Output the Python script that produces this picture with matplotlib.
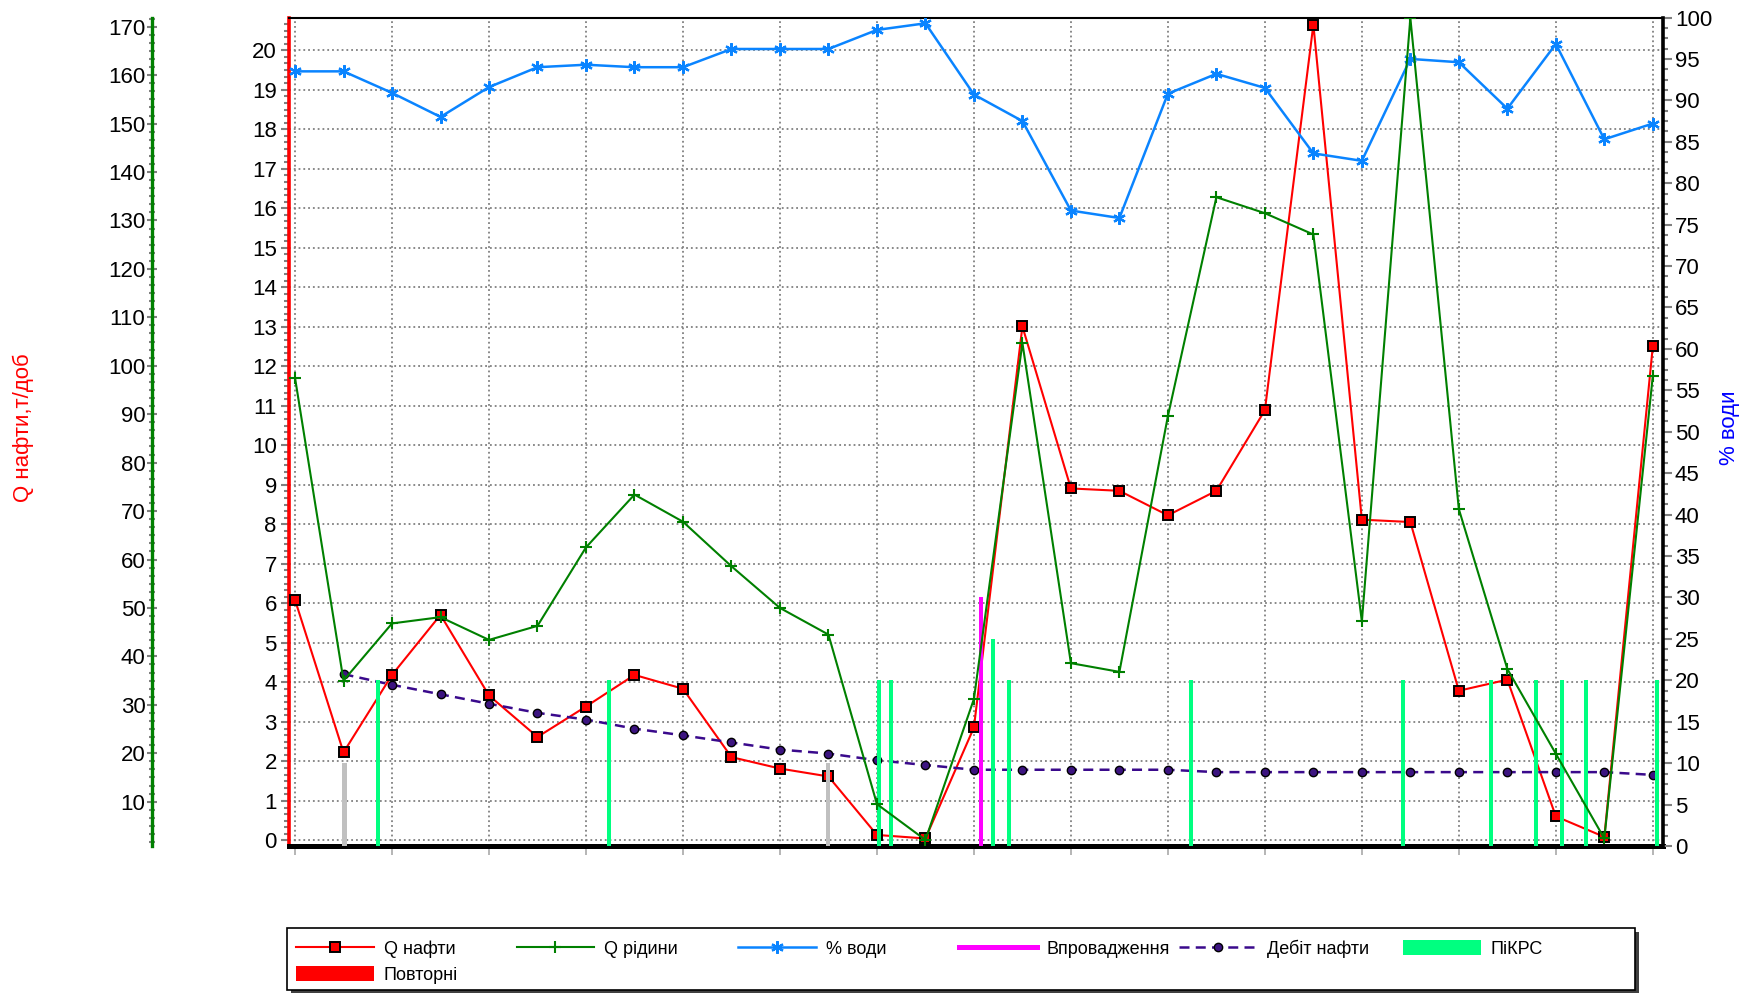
import matplotlib
matplotlib.use("Agg")
import matplotlib.pyplot as plt
from matplotlib.lines import Line2D
from matplotlib.patches import Patch, Rectangle
from matplotlib.ticker import MultipleLocator

plt.rcParams['font.family'] = ['Liberation Sans', 'DejaVu Sans']

# Measurement index (one point per measurement)
idx = list(range(29))

# Oil rate, t/day (left inner axis)
q_oil = [6.09, 2.23, 4.19, 5.71, 3.67, 2.62, 3.39, 4.19, 3.84, 2.11,
         1.82, 1.62, 0.14, 0.05, 2.86, 13.01, 8.91, 8.85, 8.23, 8.85,
         10.89, 20.65, 8.12, 8.06, 3.79, 4.07, 0.61, 0.09, 12.51]

# Liquid rate, t/day (far left axis)
q_liq = [97.5, 35.0, 46.8, 48.1, 43.4, 46.3, 62.5, 73.4, 67.8, 58.6,
         50.0, 44.5, 9.5, 2.1, 31.2, 104.7, 38.6, 36.8, 89.6, 134.8,
         131.5, 127.1, 47.2, 171.8, 70.4, 37.4, 19.9, 2.4, 97.9]

# Water cut, % (right axis)
water = [93.5, 93.5, 90.9, 88.0, 91.6, 94.0, 94.3, 94.0, 94.0, 96.2,
         96.2, 96.2, 98.5, 99.3, 90.7, 87.5, 76.7, 75.8, 90.8, 93.2,
         91.5, 83.6, 82.7, 95.0, 94.6, 89.0, 96.8, 85.3, 87.2]

# Oil debit trend, t/day
debit_idx = idx[1:]
debit = [4.21, 3.94, 3.70, 3.46, 3.23, 3.06, 2.83, 2.66, 2.48, 2.30,
         2.20, 2.03, 1.91, 1.79, 1.79, 1.79, 1.79, 1.79, 1.73, 1.73,
         1.73, 1.73, 1.73, 1.73, 1.73, 1.73, 1.73, 1.66]

# Well events (position on the measurement scale, bar height on the % scale)
pikrs_pos = [1.71, 6.48, 12.05, 12.29, 14.40, 14.73, 18.47, 22.85,
             24.66, 25.60, 26.13, 26.63, 28.09]
pikrs_h = [20, 20, 20, 20, 25, 20, 20, 20, 20, 20, 20, 20, 20]
vprov_pos = [14.15]
vprov_h = [30]
other_pos = [1.02, 10.99]
other_h = [10, 10]

W, H = 1753, 993
fig = plt.figure(figsize=(W / 100, H / 100), dpi=100)
left, right, top, bottom = 289.3, 1663, 17.5, 846
ax = fig.add_axes([left / W, 1 - bottom / H, (right - left) / W, (bottom - top) / H])
ax_w = ax.twinx()
ax_l = ax.twinx()

ax.set_xlim(-0.118, 28.21)
ax.set_ylim(-0.14, 20.83)
ax_w.set_ylim(0, 100)
ax_l.set_ylim(0.85, 171.9)

grey = '#808080'
lab_fs = 16

# Oil axis (base): grid, ticks, spines
ax.xaxis.set_major_locator(MultipleLocator(2))
ax.yaxis.set_major_locator(MultipleLocator(1))
ax.yaxis.set_minor_locator(MultipleLocator(1 / 6))
ax.grid(True, which='major', ls=':', color=grey, lw=1.3)
ax.set_axisbelow(True)
ax.tick_params(axis='x', which='major', direction='out', length=6.5, width=1.3,
               color='#b0b0b0', labelbottom=False)
ax.tick_params(axis='y', which='major', direction='out', length=6, width=1.5,
               color=grey, labelsize=lab_fs, pad=3)
ax.tick_params(axis='y', which='minor', direction='out', length=3.6, width=1.5,
               color=grey)
ax.spines['left'].set_color('#FF0000')
ax.spines['left'].set_linewidth(2.6)
ax.spines['right'].set_visible(False)
ax.spines['top'].set_color('black')
ax.spines['top'].set_linewidth(1.5)
ax.spines['bottom'].set_color('black')
ax.spines['bottom'].set_linewidth(3.6)

# Water axis (right)
ax_w.yaxis.set_major_locator(MultipleLocator(5))
ax_w.yaxis.set_minor_locator(MultipleLocator(1.25))
ax_w.tick_params(axis='y', which='major', direction='out', length=6.5, width=1.5,
                 color=grey, labelsize=lab_fs, pad=2)
ax_w.tick_params(axis='y', which='minor', direction='out', length=3.6, width=1.5,
                 color=grey)
for s in ('left', 'top', 'bottom'):
    ax_w.spines[s].set_visible(False)
ax_w.spines['right'].set_color('black')
ax_w.spines['right'].set_linewidth(2.6)

# Liquid axis (far left)
for s in ('right', 'top', 'bottom'):
    ax_l.spines[s].set_visible(False)
ax_l.spines['left'].set_visible(True)
ax_l.spines['left'].set_position(('axes', -0.1002))
ax_l.spines['left'].set_color('#008000')
ax_l.spines['left'].set_linewidth(2.4)
ax_l.yaxis.set_ticks_position('left')
ax_l.yaxis.set_label_position('left')
ax_l.yaxis.set_major_locator(MultipleLocator(10))
ax_l.yaxis.set_minor_locator(MultipleLocator(10 / 6))
ax_l.tick_params(axis='y', which='major', direction='inout', length=7, width=1.5,
                 color=grey, labelsize=lab_fs, pad=1)
ax_l.tick_params(axis='y', which='minor', direction='inout', length=4.5, width=1.5,
                 color=grey)

# Series
oil_style = dict(color='#FF0000', lw=1.5, marker='s', ms=6.5, mfc='#FF0000',
                 mec='black', mew=1.4)
liq_style = dict(color='#008000', lw=1.5, marker='+', ms=8, mew=1.5)
water_style = dict(color='#0A84FF', lw=1.8, marker=(6, 2, 0), ms=9, mew=1.6)
debit_style = dict(color='#3A0A8C', lw=1.8, ls=(0, (4, 2.5)), marker='o', ms=6,
                   mfc='#3C1480', mec='black', mew=1.0)

ax.plot(idx, q_oil, zorder=3, **oil_style)
ax.plot(debit_idx, debit, zorder=3, **debit_style)

bar_w = 0.085
ax_w.bar(pikrs_pos, pikrs_h, width=bar_w, color='#00FF80', zorder=2)
ax_w.bar(other_pos, other_h, width=bar_w, color='#C0C0C0', zorder=2)
ax_w.bar(vprov_pos, vprov_h, width=bar_w, color='#FF00FF', zorder=2)
ax_w.plot(idx, water, zorder=3, **water_style)

ax_l.plot(idx, q_liq, zorder=3, **liq_style)

# Axis titles
fig.text(23 / W, 1 - 428 / H, 'Q нафти,т/доб', rotation=90, color='#FF0000',
         ha='center', va='center', fontsize=16)
fig.text(1730 / W, 1 - 428 / H, '% води', rotation=90, color='#0000FF',
         ha='center', va='center', fontsize=16)

# Legend frame with drop shadow
bx0, bx1, by0, by1 = 287, 1635, 928, 990
sh = 4
fig.add_artist(Rectangle(((bx0 + sh) / W, 1 - (by1 + sh) / H), (bx1 - bx0) / W,
                         (by1 - by0) / H, transform=fig.transFigure,
                         facecolor='#404040', edgecolor='none', zorder=1))
fig.add_artist(Rectangle((bx0 / W, 1 - by1 / H), (bx1 - bx0) / W, (by1 - by0) / H,
                         transform=fig.transFigure, facecolor='white',
                         edgecolor='black', lw=1.2, zorder=1.1))

h_oil = Line2D([], [], **oil_style)
h_liq = Line2D([], [], **liq_style)
h_w = Line2D([], [], **water_style)
h_vp = Line2D([], [], color='#FF00FF', lw=3.6)
h_deb = Line2D([], [], **debit_style)
h_pik = Patch(facecolor='#00FF80', edgecolor='none')
h_rep = Patch(facecolor='#FF0000', edgecolor='none')

columns = [
    [(h_oil, 'Q нафти'), (h_rep, 'Повторні')],
    [(h_liq, 'Q рідини')],
    [(h_w, '% води')],
    [(h_vp, 'Впровадження')],
    [(h_deb, 'Дебіт нафти')],
    [(h_pik, 'ПіКРС')],
]
col_x = [296, 516.5, 738, 959, 1179, 1403]
for cx, col in zip(col_x, columns):
    hs = [c[0] for c in col]
    ls = [c[1] for c in col]
    fig.legend(hs, ls, loc='upper left', bbox_to_anchor=(cx / W, 1 - 940 / H),
               frameon=False, borderpad=0, borderaxespad=0, handlelength=4.3,
               handletextpad=0.55, handleheight=0.9, labelspacing=0.45,
               fontsize=13)

fig.savefig('out.png', dpi=100)
